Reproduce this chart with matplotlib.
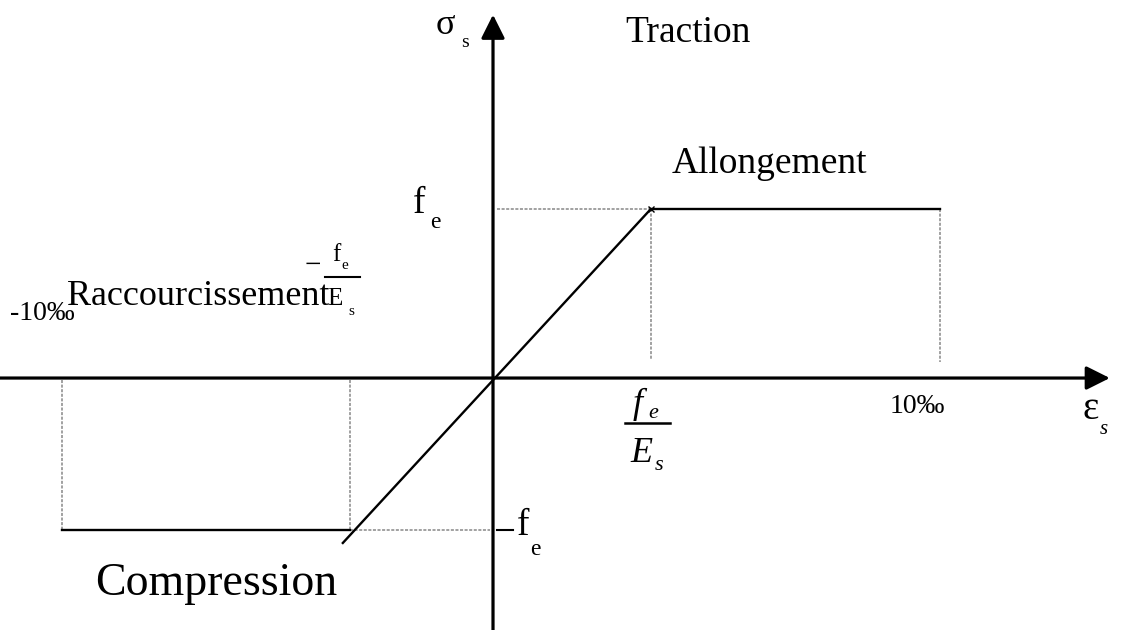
import matplotlib
matplotlib.use("Agg")
import matplotlib.pyplot as plt
from matplotlib.lines import Line2D

# ---- data (strain in permille, stress in units of fe) ----
tension_strain = [0.0, 3.53, 10.0]
tension_stress = [0.0, 1.0, 1.0]
compression_strain = [0.0, -3.2, -9.64]
compression_stress = [0.0, -0.9, -0.9]
elastic_strain = [-3.36, 3.53]
elastic_stress = [-0.976, 1.0]
yield_strain_pos = 3.53
yield_strain_neg = -3.2
max_strain_pos = 10.0
max_strain_neg = -9.64
fe_pos = 1.0
fe_neg = -0.9

W, H = 1121, 630
fig = plt.figure(figsize=(W / 100, H / 100), dpi=100)
ax = fig.add_axes([0, 0, 1, 1])
ax.set_xlim(-11.03, 14.05)
ax.set_ylim(-1.491, 2.237)
ax.axis("off")

SERIF = ["Liberation Serif", "DejaVu Serif"]

# axes arrows
ax.annotate("", xy=(13.8, 0), xytext=(-11.03, 0),
            arrowprops=dict(arrowstyle="-|>", lw=2.3, color="black",
                            mutation_scale=36, shrinkA=0, shrinkB=0))
ax.annotate("", xy=(0, 2.15), xytext=(0, -1.491),
            arrowprops=dict(arrowstyle="-|>", lw=2.3, color="black",
                            mutation_scale=36, shrinkA=0, shrinkB=0))

# guide lines (dotted)
dot = dict(color="#888888", lw=1.1, linestyle=(0, (2, 1)))
ax.plot([0.09, yield_strain_pos], [fe_pos, fe_pos], **dot)
ax.plot([yield_strain_pos, yield_strain_pos], [fe_pos, 0.107], **dot)
ax.plot([max_strain_pos, max_strain_pos], [fe_pos, 0.095], **dot)
ax.plot([yield_strain_neg, yield_strain_neg], [-0.01, fe_neg], **dot)
ax.plot([max_strain_neg, max_strain_neg], [-0.01, fe_neg], **dot)
ax.plot([yield_strain_neg, -0.07], [fe_neg, fe_neg], **dot)

# -fe tick
ax.plot([0.09, 0.45], [fe_neg, fe_neg], color="black", lw=1.5)

# curves
ax.plot(elastic_strain, elastic_stress, color="black", lw=1.7)
ax.plot(tension_strain[1:], tension_stress[1:], color="black", lw=1.7)
ax.plot(compression_strain[1:], compression_stress[1:], color="black", lw=1.7)
ax.plot([yield_strain_pos], [fe_pos], marker="x", color="black", ms=5, mew=1.0)


def t(x, y, s, size, style="normal", **kw):
    fig.text(x / W, 1 - y / H, s, fontsize=size, family=SERIF, style=style,
             ha="left", va="baseline", color="black", **kw)


# labels (pixel positions: left, baseline)
t(436, 34, "σ", 26)
t(461, 47, "s", 14)
t(625, 42, "Traction", 27)
t(672, 173, "Allongement", 27)
t(413, 213, "f", 27)
t(430, 228, "e", 17)
t(10, 320, "-10‰", 20)
t(67, 305, "Raccourcissement", 26)
# small fraction -fe/Es
t(305, 273, "−", 21)
t(332, 261, "f", 18)
t(341, 269, "e", 11)
fig.add_artist(Line2D([325 / W, 360 / W], [1 - 277 / H, 1 - 277 / H],
                      color="black", lw=1.5))
t(327, 305, "E", 18)
t(348, 315, "s", 11)
# fraction fe/Es on x axis
t(633, 413, "f", 26, style="italic")
t(648, 418, "e", 16, style="italic")
fig.add_artist(Line2D([625 / W, 670 / W], [1 - 423 / H, 1 - 423 / H],
                      color="black", lw=1.8))
t(630, 462, "E", 26, style="italic")
t(655, 470, "s", 16, style="italic")
t(890, 413, "10‰", 20)
t(1083, 419, "ε", 28)
t(1100, 434, "s", 15, style="italic")
t(517, 535, "f", 27)
t(530, 555, "e", 17)
t(95, 595, "Compression", 33)

fig.savefig("out.png", dpi=100)
